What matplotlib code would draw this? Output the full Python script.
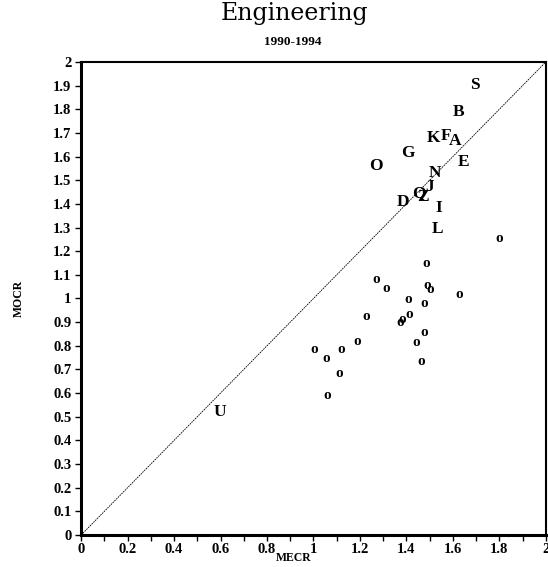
import numpy as np
import matplotlib.pyplot as plt

# letter-labelled institutions (MECR, MOCR)
letters = ['S', 'B', 'K', 'F', 'A', 'G', 'O', 'E', 'N', 'J', 'Q', 'Z', 'D', 'I', 'L', 'U']
let_x = [1.695, 1.626, 1.515, 1.570, 1.609, 1.408, 1.269, 1.647, 1.523, 1.501, 1.455, 1.472, 1.386, 1.540, 1.533, 0.598]
let_y = [1.902, 1.790, 1.677, 1.687, 1.666, 1.617, 1.560, 1.578, 1.529, 1.470, 1.445, 1.431, 1.407, 1.384, 1.294, 0.520]

# unlabelled points, drawn as small "o"
circ_x = [1.486, 1.272, 1.312, 1.489, 1.504, 1.627, 1.406, 1.475, 1.414, 1.227, 1.381,
          1.372, 1.475, 1.442, 1.190, 1.003, 1.121, 1.055, 1.465, 1.111, 1.061, 1.799]
circ_y = [1.146, 1.081, 1.041, 1.057, 1.036, 1.018, 0.997, 0.978, 0.933, 0.923, 0.913,
          0.898, 0.858, 0.813, 0.819, 0.785, 0.786, 0.748, 0.734, 0.682, 0.588, 1.255]

xticks = np.round(np.arange(0, 2.01, 0.2), 1)
yticks = np.round(np.arange(0, 2.01, 0.1), 1)

def lab(v):
    s = ('%.1f' % v).rstrip('0').rstrip('.')
    return s

serif = 'Liberation Serif'

fig = plt.figure(figsize=(5.48, 5.67), dpi=100)
ax = fig.add_axes([0.148, 0.0564, 0.848, 0.8343])

ax.plot([0, 2], [0, 2], color='black', lw=0.6, linestyle=(0, (2, 1)))

for x, y in zip(circ_x, circ_y):
    ax.text(x, y, 'o', ha='center', va='center', fontsize=11, fontweight='bold',
            family=serif)
for t, x, y in zip(letters, let_x, let_y):
    ax.text(x, y, t, ha='center', va='center', fontsize=12.5, fontweight='bold',
            family=serif)

ax.set_xlim(0, 2)
ax.set_ylim(0, 2)
ax.set_xticks(xticks)
ax.set_xticklabels([lab(v) for v in xticks])
ax.set_xticks(np.arange(0.1, 2.0, 0.2), minor=True)
ax.set_yticks(yticks)
ax.set_yticklabels([lab(v) for v in yticks])

for t in ax.get_xticklabels() + ax.get_yticklabels():
    t.set_family(serif)
    t.set_fontweight('bold')
    t.set_fontsize(10.5)

ax.tick_params(axis='x', which='both', direction='out', length=4, width=1, pad=1.5)
ax.tick_params(axis='y', which='both', direction='out', length=4, width=1, pad=3)
for side in ['left', 'bottom']:
    ax.spines[side].set_linewidth(2.2)
for side in ['top', 'right']:
    ax.spines[side].set_linewidth(1.5)

ax.set_xlabel('MECR', family=serif, fontweight='bold', fontsize=8.5, va='center')
ax.xaxis.set_label_coords(0.458, -0.048)
ax.set_ylabel('MOCR', family=serif, fontweight='bold', fontsize=8.5, labelpad=20)

fig.text(0.538, 0.977, 'Engineering', ha='center', va='center', fontsize=17,
         family='DejaVu Serif')
fig.text(0.535, 0.926, '1990-1994', ha='center', va='center', fontsize=9.5,
         fontweight='bold', family=serif)

fig.savefig('out.png', dpi=100)
